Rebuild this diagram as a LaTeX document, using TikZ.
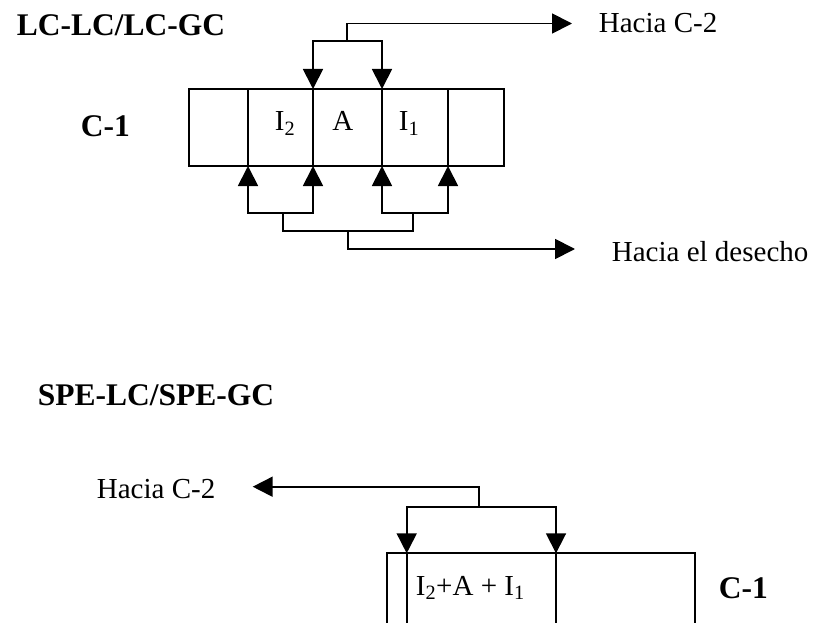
\documentclass[tikz,border=0pt]{standalone}
\usepackage{fontspec}
\setmainfont{Liberation Serif}
\usetikzlibrary{arrows.meta}
\begin{document}
\begin{tikzpicture}[x=1pt,y=-1pt,
  line width=1.8pt,
  >={Triangle[length=20pt,width=20pt]},
  cell/.style={draw, minimum height=77pt, inner sep=0pt, outer sep=0pt, anchor=north west},
  lbl/.style={inner sep=0pt, anchor=base west, font=\fontsize{29}{34}\selectfont},
  ttl/.style={inner sep=0pt, anchor=base west, font=\fontsize{31.5}{36}\selectfont\bfseries},
]
\useasboundingbox (0,0) rectangle (813,623);
\clip (0,0) rectangle (813,623);

% ---------- top diagram ----------
\node[ttl] (t1) at (16,36) {LC-LC/LC-GC};
\node[ttl] (c1lab) at (80,136) {C-1};

\node[cell, minimum width=59pt] (c1) at (189,89) {};
\node[cell, minimum width=65pt] (c2) at (248,89) {};
\node[cell, minimum width=69pt] (c3) at (313,89) {};
\node[cell, minimum width=66pt] (c4) at (382,89) {};
\node[cell, minimum width=56pt] (c5) at (448,89) {};

\node[lbl] (i2) at (274,131) {I\textsubscript{2}};
\node[lbl] (a) at (331.5,131) {A};
\node[lbl] (i1) at (398,131) {I\textsubscript{1}};

\node[lbl] (h1) at (598,33) {Hacia C-2};
\node[lbl] (h2) at (611,261) {Hacia el desecho};

% upper collector
\coordinate (d1) at (347,41);
\coordinate (d2) at (347,23.5);
\coordinate (e1) at (572,23.5);
\draw[<->] (c2.north east) -- (c2.north east |- d1) -- (c3.north east |- d1) -- (c3.north east);
\draw[->] (d1) -- (d2) -- (e1);

% lower collector
\coordinate (u1) at (0,213.3);
\draw[<->] (c1.south east) -- (c1.south east |- u1) -- (c2.south east |- u1) -- (c2.south east);
\draw[<->] (c3.south east) -- (c3.south east |- u1) -- (c4.south east |- u1) -- (c4.south east);
\coordinate (m1) at (282.7,213.3);
\coordinate (m2) at (282.7,230.7);
\coordinate (m3) at (413.3,230.7);
\coordinate (m4) at (413.3,213.3);
\draw (m1) -- (m2) -- (m3) -- (m4);
\coordinate (w1) at (348.3,230.7);
\coordinate (w2) at (348.3,249);
\coordinate (e2) at (575,249);
\draw[->] (w1) -- (w2) -- (e2);

% ---------- bottom diagram ----------
\node[ttl] (t2) at (37,405) {SPE-LC/SPE-GC};
\node[lbl] (h3) at (96,498) {Hacia C-2};
\node[ttl] (c1lab2) at (718,598) {C-1};

\node[cell, minimum width=308pt, minimum height=150pt] (bout) at (387.3,553.3) {};
\node[cell, minimum width=149.3pt, minimum height=150pt] (bin) at (406.7,553.3) {};
\node[lbl] (mix) at (415,595) {I\textsubscript{2}+A + I\textsubscript{1}};

\coordinate (k1) at (0,506.7);
\draw[<->] (bin.north west) -- (bin.north west |- k1) -- (bin.north east |- k1) -- (bin.north east);
\coordinate (k2) at (479.3,506.7);
\coordinate (k3) at (479.3,486.7);
\coordinate (e3) at (252.7,486.7);
\draw[->] (k2) -- (k3) -- (e3);
\end{tikzpicture}
\end{document}
